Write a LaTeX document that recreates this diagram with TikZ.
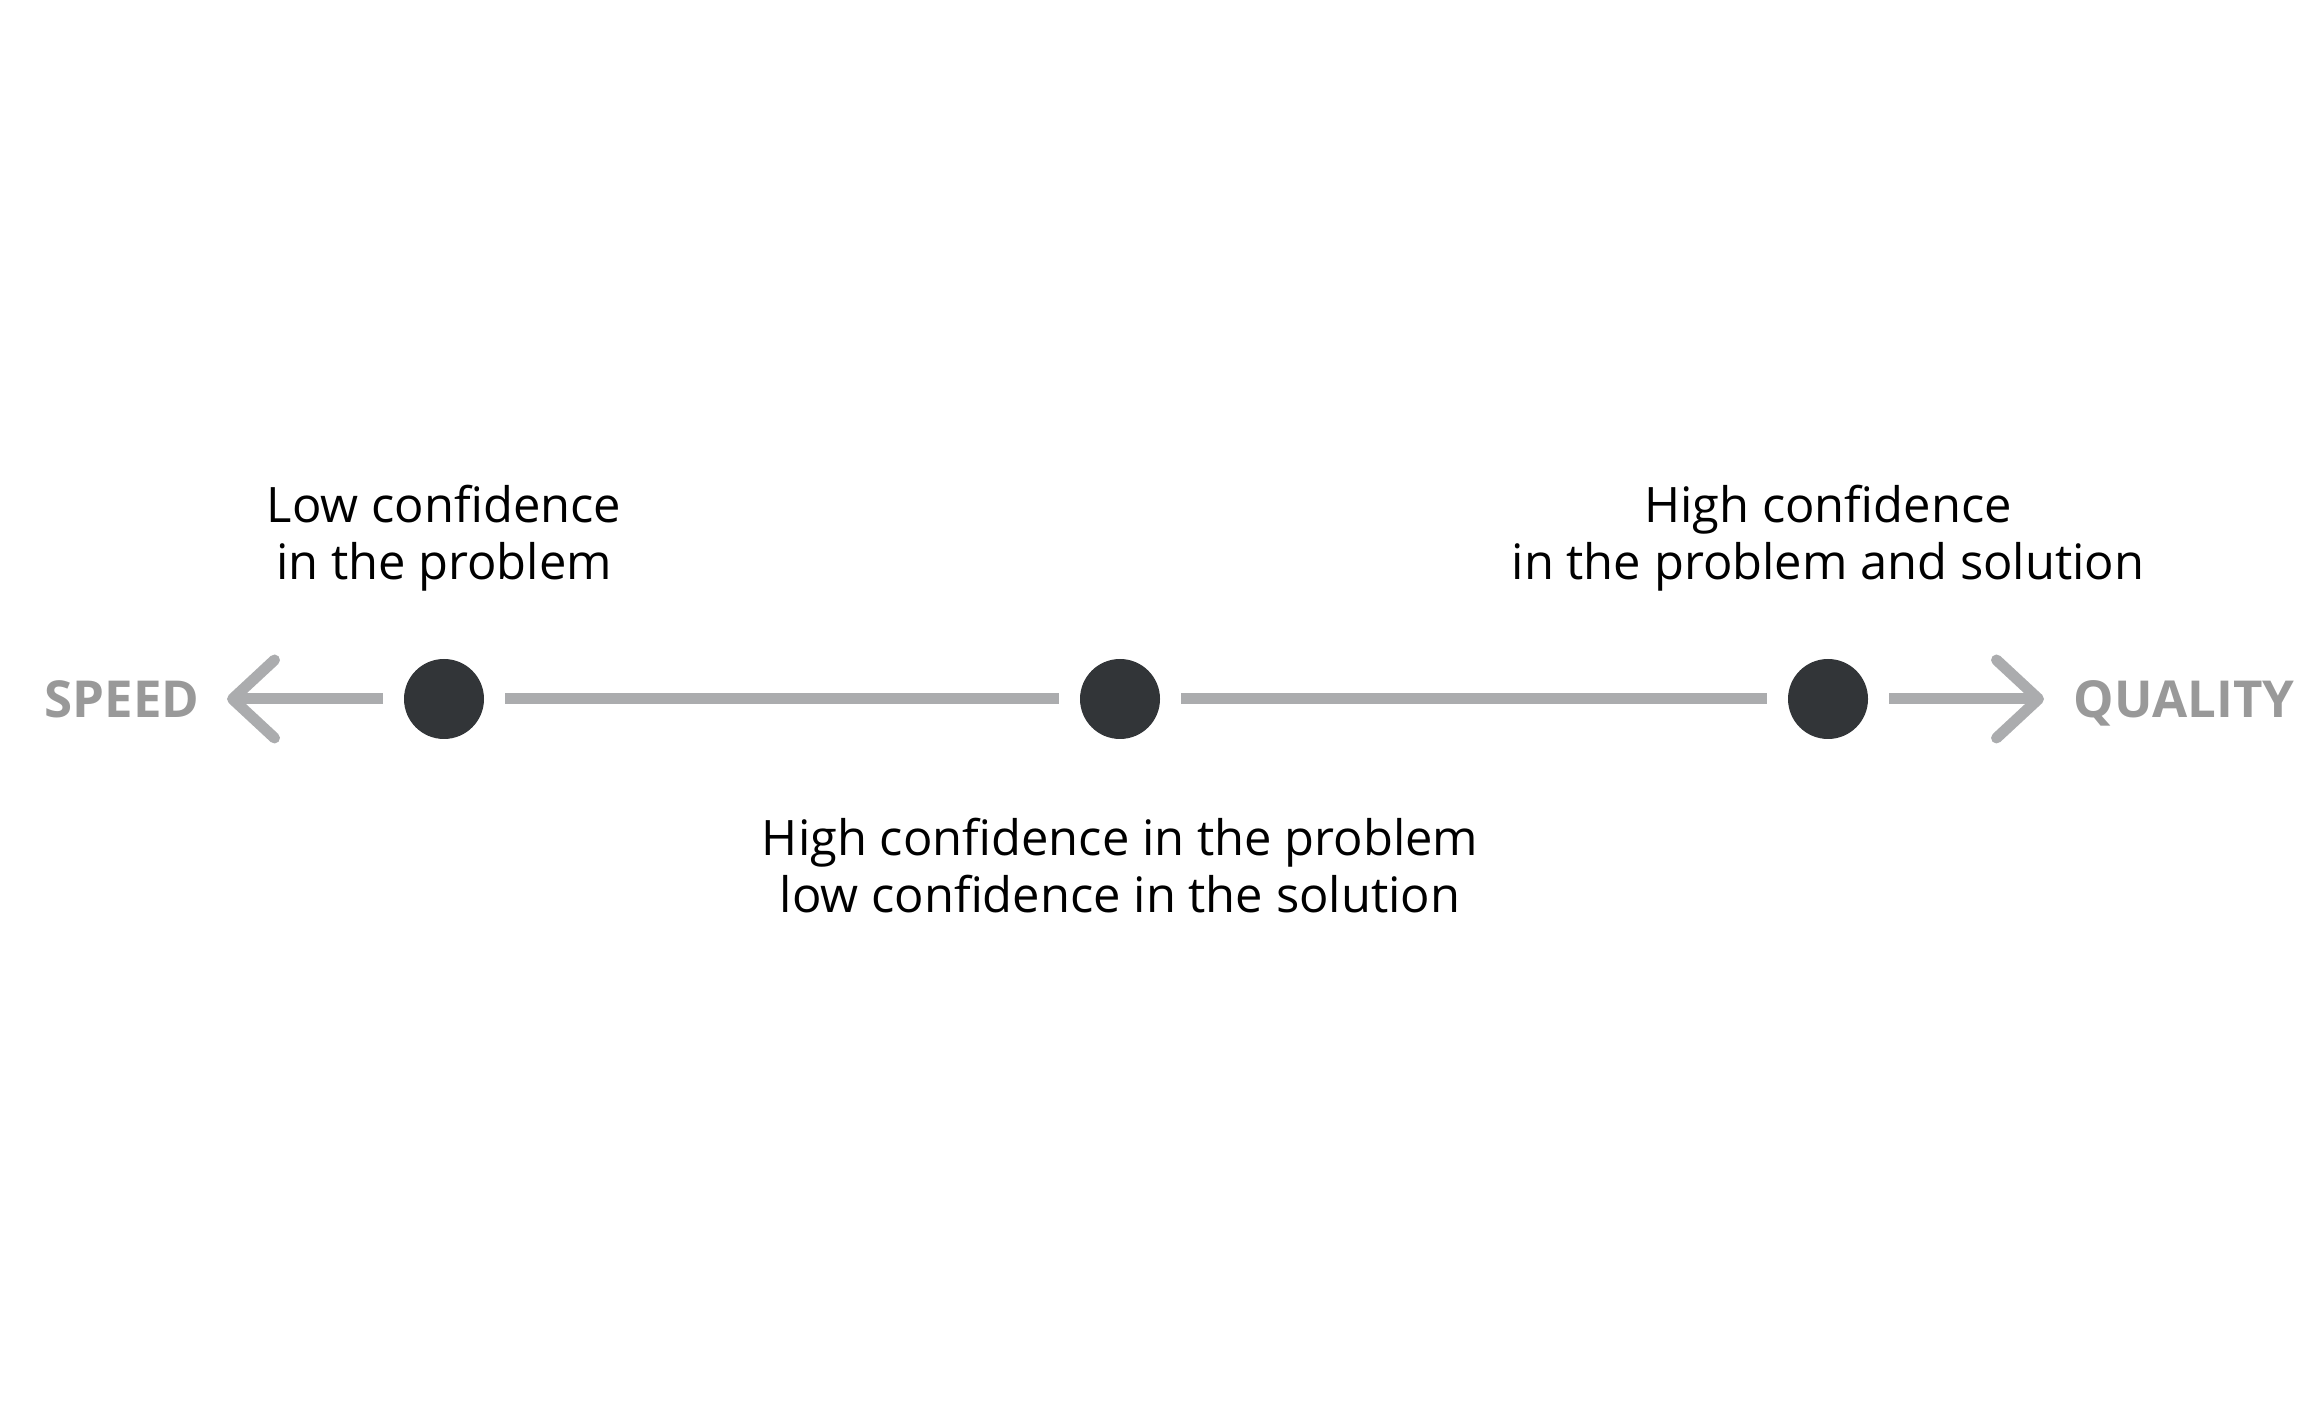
\documentclass[tikz,border=0pt]{standalone}
\usepackage{fontspec}
\setmainfont{Open Sans}
\usetikzlibrary{arrows.meta, positioning}
\definecolor{dotgray}{RGB}{50,53,56}
\definecolor{axisgray}{RGB}{171,172,174}
\definecolor{polegray}{RGB}{153,153,153}

\begin{document}
\begin{tikzpicture}[
  stage/.style={circle, fill=dotgray, minimum size=0.8cm, inner sep=0pt, outer sep=0.21cm},
  axis/.style={draw=axisgray, line width=0.11cm},
  barb/.style={-{Straight Barb[round, length=0.42cm, width=0.78cm]}},
  note/.style={align=center, font=\fontsize{13.9}{16.3}\selectfont, inner sep=0pt},
  pole/.style={font=\bfseries\fontsize{14.5}{16}\selectfont, text=polegray, inner sep=0pt, text depth=0pt}
]
\useasboundingbox (0,0) rectangle (23.04,14);

% the three stages on the axis
\node[stage] (low) at (4.44,7.01) {};
\node[stage] (mid) at (11.20,7.01) {};
\node[stage] (high) at (18.28,7.01) {};
\coordinate (speedtip) at (2.27,7.01);
\coordinate (qualitytip) at (20.44,7.01);

% axis
\draw[axis] (low) -- (mid);
\draw[axis] (mid) -- (high);
\draw[axis, barb] (low) -- (speedtip);
\draw[axis, barb] (high) -- (qualitytip);

% ends
\node[pole, left=0.27cm of speedtip] (speed) {SPEED};
\node[pole, right=0.29cm of qualitytip] (quality) {QUALITY};

% labels
\node[note, above=0.46cm of low] (lowtext) {Low confidence\\in the problem};
\node[note, below=0.57cm of mid] (midtext) {High confidence in the problem\\low confidence in the solution};
\node[note, above=0.46cm of high] (hightext) {High confidence\\in the problem and solution};
\end{tikzpicture}
\end{document}
